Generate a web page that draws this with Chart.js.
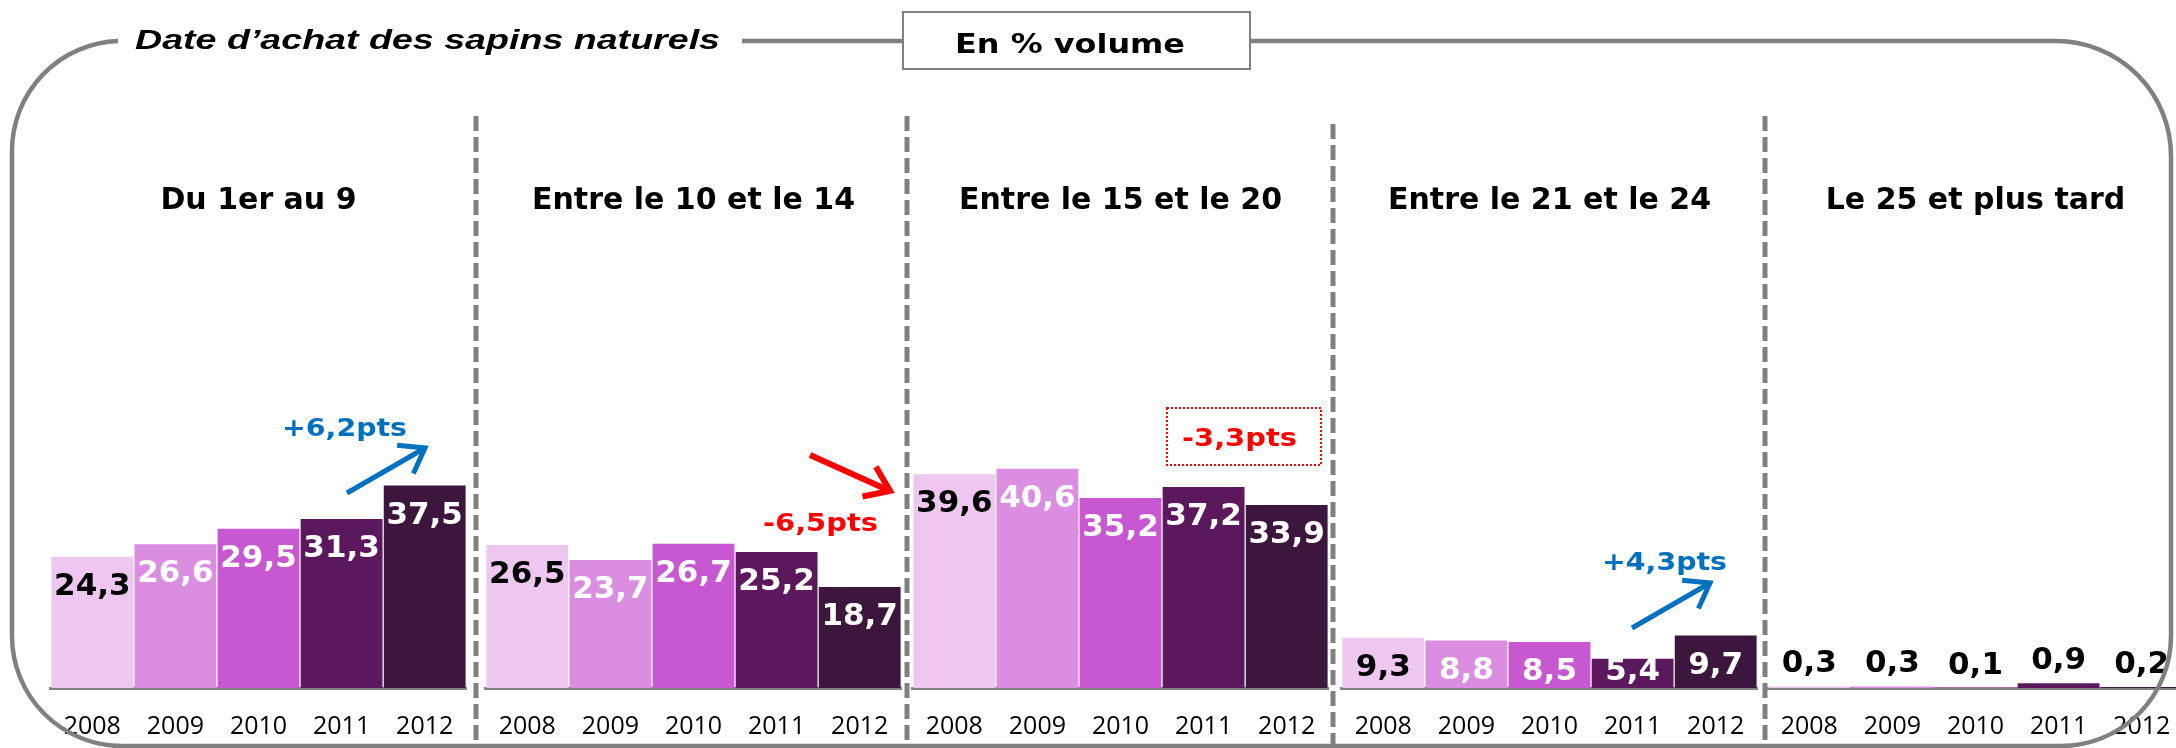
<!DOCTYPE html>
<html>
<head>
<meta charset="utf-8">
<script src="https://cdn.jsdelivr.net/npm/chart.js@4.4.1/dist/chart.umd.min.js"></script>
<style>
  html, body { margin:0; padding:0; background:#fff; }
  body { width:2176px; height:748px; overflow:hidden; position:relative; }
  .grp { position:absolute; top:100px; width:421px; height:648px; }
  .txt { position:absolute; white-space:nowrap; line-height:1; transform-origin:0 50%; }
  svg { position:absolute; left:0; top:0; pointer-events:none; }
</style>
</head>
<body>
<script>
// ---------- data ----------
const groupTitles = ["Du 1er au 9", "Entre le 10 et le 14", "Entre le 15 et le 20", "Entre le 21 et le 24", "Le 25 et plus tard"];
const years = ["2008", "2009", "2010", "2011", "2012"];
const du1au9      = [24.3, 26.6, 29.5, 31.3, 37.5];
const du10au14    = [26.5, 23.7, 26.7, 25.2, 18.7];
const du15au20    = [39.6, 40.6, 35.2, 37.2, 33.9];
const du21au24    = [9.3, 8.8, 8.5, 5.4, 9.7];
const du25etPlus  = [0.3, 0.3, 0.1, 0.9, 0.2];
const groupSeries = [du1au9, du10au14, du15au20, du21au24, du25etPlus];

// ---------- styles ----------
const yearColors = ["#EDC7EF", "#DB8DE1", "#C858D1", "#5C185D", "#3C163C"];
const groupLeft = [48, 483, 910, 1339, 1765];
const Y_MAX = 86.85;

const valueLabels = {
  id: 'valueLabels',
  afterDatasetsDraw(chart, args, opts) {
    const ctx = chart.ctx;
    const meta = chart.getDatasetMeta(0);
    const data = chart.data.datasets[0].data;
    ctx.save();
    ctx.font = 'bold 31px "DejaVu Sans"';
    ctx.textAlign = 'center';
    ctx.textBaseline = 'middle';
    meta.data.forEach((bar, i) => {
      const txt = data[i].toFixed(1).replace('.', ',');
      let y;
      if (opts.outside) {
        y = bar.y - 22;
        ctx.fillStyle = '#000';
      } else {
        y = Math.min(bar.y + 30, bar.base - 16);
        ctx.fillStyle = i === 0 ? '#000' : '#fff';
      }
      ctx.fillText(txt, bar.x, y);
    });
    ctx.restore();
  }
};

groupSeries.forEach((vals, g) => {
  const div = document.createElement('div');
  div.className = 'grp';
  div.style.left = groupLeft[g] + 'px';
  const cv = document.createElement('canvas');
  cv.width = 421; cv.height = 648;
  div.appendChild(cv);
  document.body.appendChild(div);
  new Chart(cv, {
    type: 'bar',
    data: {
      labels: years,
      datasets: [{
        data: vals,
        backgroundColor: yearColors,
        borderWidth: 0,
        barPercentage: 0.985,
        categoryPercentage: 1
      }]
    },
    options: {
      responsive: false,
      animation: false,
      devicePixelRatio: 1,
      layout: { padding: 0 },
      plugins: {
        legend: { display: false },
        tooltip: { enabled: false },
        title: {
          display: true,
          text: groupTitles[g],
          color: '#000',
          font: { family: 'DejaVu Sans', size: 30, weight: 'bold', lineHeight: 1.2 },
          padding: { top: 83, bottom: 0 }
        },
        valueLabels: { outside: g === 4 }
      },
      scales: {
        x: {
          grid: { display: false },
          border: { display: true, color: '#808080', width: 3 },
          ticks: { color: '#000', font: { family: 'Open Sans', size: 25 }, padding: 16, maxRotation: 0 },
          afterFit(s) { s.height = 60; }
        },
        y: { display: false, min: 0, max: Y_MAX }
      }
    },
    plugins: [valueLabels]
  });
});

// ---------- decorations ----------
const NS = 'http://www.w3.org/2000/svg';
const svg = document.createElementNS(NS, 'svg');
svg.setAttribute('width', 2176); svg.setAttribute('height', 748);
document.body.appendChild(svg);
function el(tag, attrs) {
  const e = document.createElementNS(NS, tag);
  for (const k in attrs) e.setAttribute(k, attrs[k]);
  svg.appendChild(e);
  return e;
}
// frame
el('path', { d: 'M 742 41 L 903 41', stroke: '#808080', 'stroke-width': 4.5, fill: 'none' });
el('path', { d: 'M 1250 41 L 2056 41 A 115 115 0 0 1 2171 156 L 2171 636 A 110 110 0 0 1 2061 746 L 122 746 A 110 110 0 0 1 12 636 L 12 151 A 110 110 0 0 1 118 41',
  stroke: '#808080', 'stroke-width': 4.5, fill: 'none' });
el('rect', { x: 903, y: 12, width: 347, height: 57, fill: '#fff', stroke: '#808080', 'stroke-width': 2 });
// dividers
[[476,116],[907,116],[1333,124],[1765,116]].forEach(([x,y0]) => {
  el('line', { x1: x, y1: y0, x2: x, y2: 748, stroke: '#808080', 'stroke-width': 5, 'stroke-dasharray': '15 6' });
});
// arrows
function arrow(x1, y1, x2, y2, color, w) {
  el('line', { x1, y1, x2, y2, stroke: color, 'stroke-width': w });
  const a = Math.atan2(y1 - y2, x1 - x2), L = 28, s = 0.62;
  const p1 = [x2 + L * Math.cos(a + s), y2 + L * Math.sin(a + s)];
  const p2 = [x2 + L * Math.cos(a - s), y2 + L * Math.sin(a - s)];
  el('polyline', { points: `${p1} ${x2},${y2} ${p2}`, stroke: color, 'stroke-width': w, fill: 'none', 'stroke-linejoin': 'miter' });
}
arrow(347, 493, 425, 448, '#0070C0', 5);
arrow(810, 455, 890, 491, '#FF0000', 6);
arrow(1632, 628, 1710, 583, '#0070C0', 5);
// dotted box
el('rect', { x: 1167, y: 408, width: 154, height: 57, fill: 'none', stroke: '#FF0000', 'stroke-width': 2, 'stroke-dasharray': '2 2' });

// texts
function text(str, left, cy, width, font, color) {
  const d = document.createElement('div');
  d.className = 'txt';
  d.textContent = str;
  d.style.font = font;
  d.style.lineHeight = '1';
  d.style.color = color;
  d.style.left = left + 'px';
  document.body.appendChild(d);
  const r = d.getBoundingClientRect();
  d.style.top = (cy - r.height / 2) + 'px';
  d.style.transform = `scaleX(${width / r.width})`;
}
text('Date d\u2019achat des sapins naturels', 135, 40, 585, 'italic bold 28px "Liberation Sans"', '#000');
text('En % volume', 955, 43, 230, 'bold 27px "DejaVu Sans"', '#000');
text('+6,2pts', 282, 428, 125, 'bold 24px "DejaVu Sans"', '#0070C0');
text('-6,5pts', 763, 523, 115, 'bold 24px "DejaVu Sans"', '#FF0000');
text('-3,3pts', 1182, 438, 115, 'bold 24px "DejaVu Sans"', '#FF0000');
text('+4,3pts', 1602, 562, 125, 'bold 24px "DejaVu Sans"', '#0070C0');
</script>
</body>
</html>
